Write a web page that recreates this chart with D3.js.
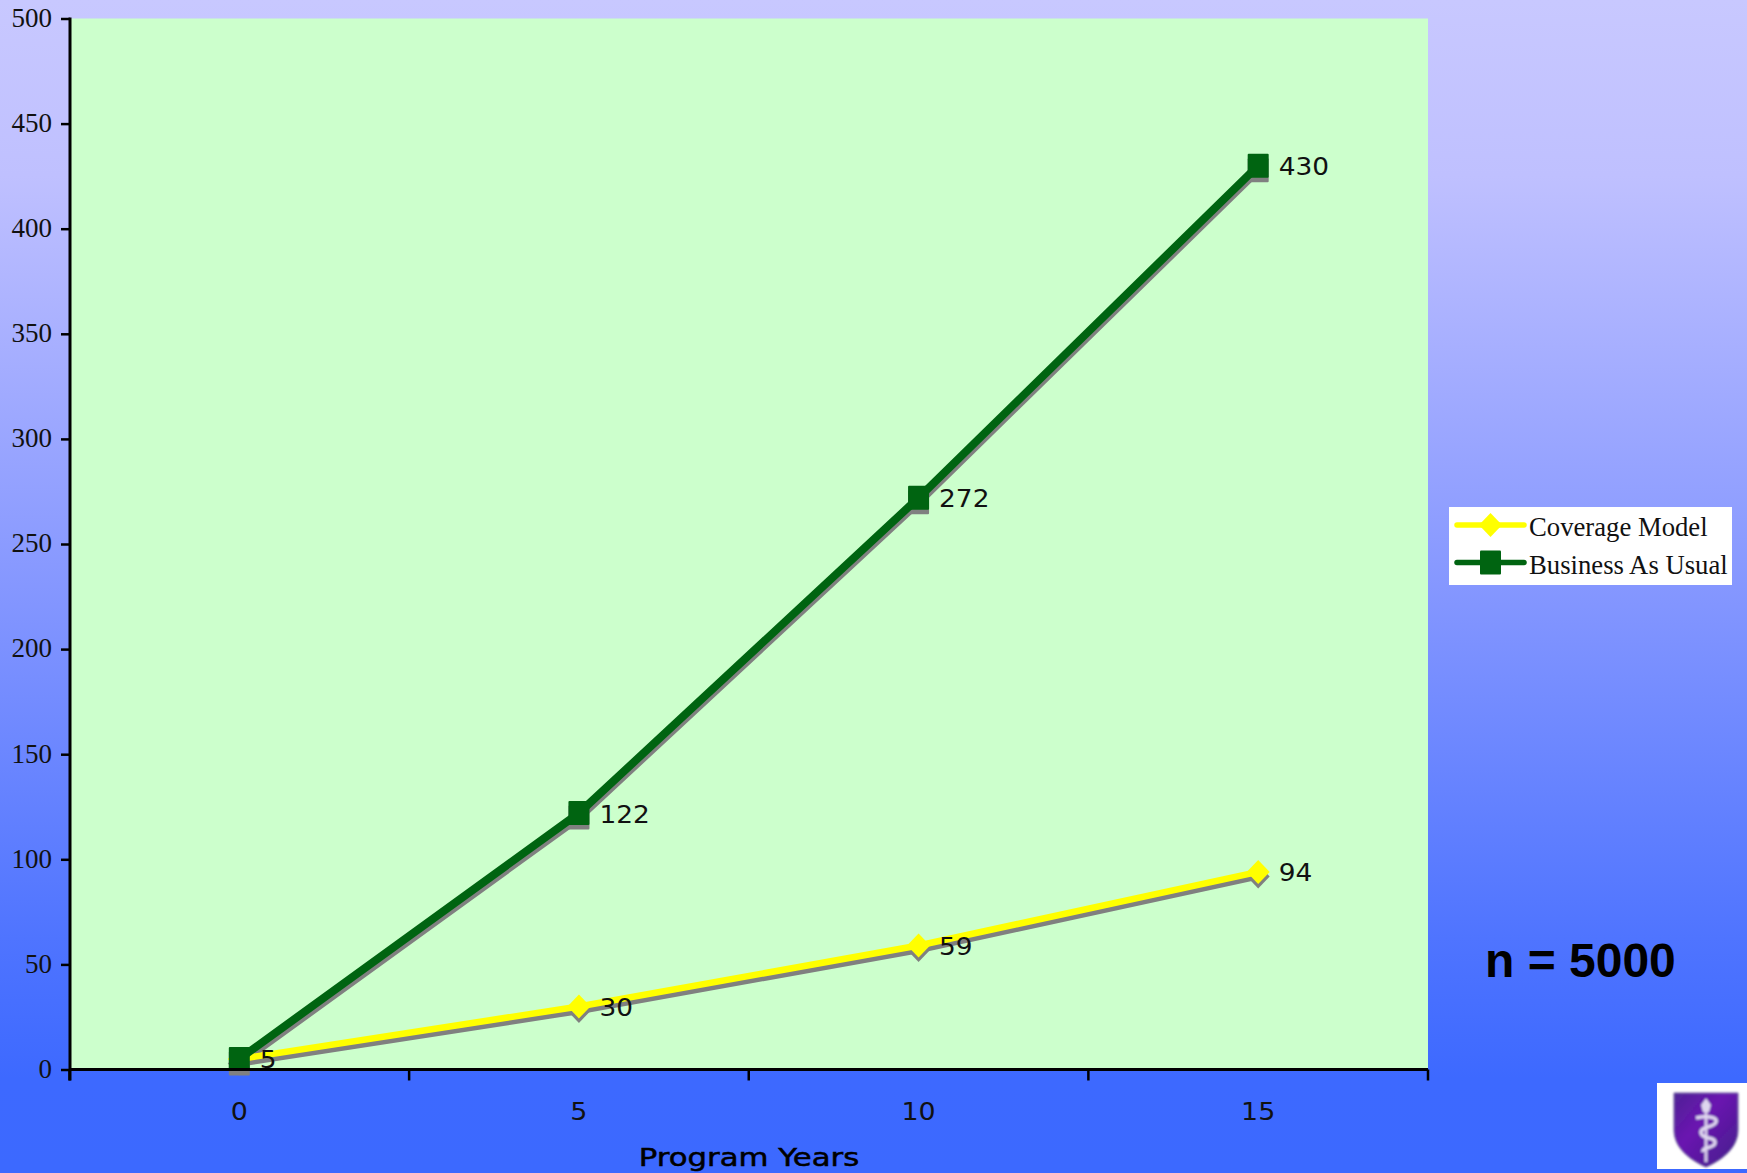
<!DOCTYPE html>
<html>
<head>
<meta charset="utf-8">
<style>
html,body{margin:0;padding:0;background:#3c69ff;overflow:hidden}
svg{display:block}
</style>
<script src="https://cdn.jsdelivr.net/npm/d3@7"></script>
</head>
<body>
<svg id="chart" width="1747" height="1173"></svg>
<script>
const programYears = ["0", "5", "10", "15"];
const coverageModel = [5, 30, 59, 94];
const businessAsUsual = [5, 122, 272, 430];
const yTicks = [0, 50, 100, 150, 200, 250, 300, 350, 400, 450, 500];
const seriesNames = ["Coverage Model", "Business As Usual"];
const seriesColors = ["#ffff00", "#006411"];
const seriesMarkers = ["diamond", "square"];
const seriesWidths = [6.5, 8];

const svg = d3.select("#chart");
const defs = svg.append("defs");

// Page backdrop: lavender at the top fading into saturated blue
const grad = defs.append("linearGradient").attr("id", "backdrop")
  .attr("x1", 0).attr("y1", 0).attr("x2", 0).attr("y2", 1);
[[0, "#c8c8ff"], [0.15, "#bfc0ff"], [0.5, "#8597ff"], [0.8, "#4f74ff"], [0.92, "#3d69ff"], [1, "#3c69ff"]]
  .forEach(([o, c]) => grad.append("stop").attr("offset", o).attr("stop-color", c));
svg.append("rect").attr("width", 1747).attr("height", 1173).attr("fill", "url(#backdrop)");

const x = d3.scaleBand().domain(programYears).range([69.5, 1428]);
const y = d3.scaleLinear().domain([0, 500]).range([1069.5, 18.5]);
const cx = d => x(d) + x.bandwidth() / 2;

// Horizontally stretch a text selection while keeping it live text
function stretch(sel, factor) {
  sel.each(function () {
    const w = this.getComputedTextLength();
    d3.select(this).attr("textLength", w * factor).attr("lengthAdjust", "spacingAndGlyphs");
  });
}

// Plot area
svg.append("rect")
  .attr("x", x.range()[0]).attr("y", y(500))
  .attr("width", x.range()[1] - x.range()[0]).attr("height", y(0) - y(500))
  .attr("fill", "#ccffcc");

const lineGen = d3.line().x((d, i) => cx(programYears[i])).y(d => y(d));

function marker(g, kind, px, py, color) {
  if (kind === "diamond") {
    g.append("path")
      .attr("d", `M${px},${py - 12}L${px + 11.5},${py}L${px},${py + 12}L${px - 11.5},${py}Z`)
      .attr("fill", color);
  } else {
    g.append("rect")
      .attr("x", px - 10.5).attr("y", py - 12)
      .attr("width", 21).attr("height", 24).attr("rx", 1)
      .attr("fill", color);
  }
}

function drawSeries(values, index) {
  const color = seriesColors[index], kind = seriesMarkers[index], sw = seriesWidths[index];
  const shadow = svg.append("g").attr("transform", "translate(0,4.5)");
  shadow.append("path").attr("d", lineGen(values))
    .attr("fill", "none").attr("stroke", "#808080").attr("stroke-width", sw);
  values.forEach((v, i) => marker(shadow, kind, cx(programYears[i]), y(v), "#808080"));
  return () => {
    const g = svg.append("g");
    g.append("path").attr("d", lineGen(values))
      .attr("fill", "none").attr("stroke", color).attr("stroke-width", sw);
    values.forEach((v, i) => marker(g, kind, cx(programYears[i]), y(v), color));
  };
}

// Shadows go down first so neither line's shadow covers the other line
const topYellow = drawSeries(coverageModel, 0);
const topGreen = drawSeries(businessAsUsual, 1);
topYellow();
topGreen();

// Axes
const axisY = svg.append("g").attr("transform", "translate(70,0)")
  .call(d3.axisLeft(y).tickValues(yTicks).tickSize(9).tickPadding(9));
axisY.selectAll("text").attr("font-family", "Liberation Serif").attr("font-size", 27)
  .attr("fill", "#111").attr("dy", "0.29em");
axisY.selectAll("line").attr("stroke", "#000").attr("stroke-width", 2.5);
axisY.select(".domain").attr("stroke", "#000").attr("stroke-width", 3).attr("d", `M0,${y(500) - 1}V${y(0) + 11}`);

const axisX = svg.append("g").attr("transform", `translate(0,${y(0)})`);
axisX.append("line").attr("x1", x.range()[0]).attr("x2", x.range()[1])
  .attr("stroke", "#000").attr("stroke-width", 3);
const xEdges = programYears.map(d => x(d)).concat(x.range()[1]);
axisX.selectAll(".edge").data(xEdges).join("line").attr("class", "edge")
  .attr("x1", d => d).attr("x2", d => d).attr("y1", 0).attr("y2", 11)
  .attr("stroke", "#000").attr("stroke-width", 2.5);
axisX.selectAll(".lab").data(programYears).join("text").attr("class", "lab")
  .attr("x", d => cx(d)).attr("y", 50).attr("text-anchor", "middle")
  .attr("font-family", "DejaVu Sans").attr("font-size", 24).attr("fill", "#111")
  .text(d => d)
  .call(stretch, 1.12);

svg.append("text").attr("x", 749).attr("y", 1166).attr("text-anchor", "middle")
  .attr("font-family", "DejaVu Sans").attr("font-size", 24)
  .attr("stroke", "#000").attr("stroke-width", 0.5)
  .attr("fill", "#000").text("Program Years")
  .call(stretch, 1.28);

// Value labels beside each point; the shared starting point is labelled once
function valueLabels(values, years) {
  svg.append("g").selectAll("text").data(values).join("text")
    .attr("x", (d, i) => cx(years[i]) + 20.5)
    .attr("y", d => y(d) + 9.5)
    .attr("font-family", "DejaVu Sans").attr("font-size", 24).attr("fill", "#111")
    .text(d => d)
    .call(stretch, 1.1);
}
valueLabels(coverageModel, programYears);
valueLabels(businessAsUsual.slice(1), programYears.slice(1));

// Legend
const legend = svg.append("g");
legend.append("rect").attr("x", 1449).attr("y", 507).attr("width", 283).attr("height", 78).attr("fill", "#fff");
seriesNames.forEach((name, i) => {
  const ly = i === 0 ? 525 : 562.5;
  legend.append("line").attr("x1", 1457).attr("x2", 1524).attr("y1", ly).attr("y2", ly)
    .attr("stroke", seriesColors[i]).attr("stroke-width", 5.5).attr("stroke-linecap", "round");
  marker(legend, seriesMarkers[i], 1490.5, ly, seriesColors[i]);
  legend.append("text").attr("x", 1529).attr("y", i === 0 ? 536 : 574)
    .attr("font-family", "Liberation Serif").attr("font-size", 26.7).attr("fill", "#111")
    .text(name);
});

// Sample size note
svg.append("text").attr("x", 1485).attr("y", 977)
  .attr("font-family", "Liberation Sans").attr("font-weight", "bold").attr("font-size", 48)
  .attr("fill", "#000").text("n = 5000");

// Emblem: white tile, purple shield, staff and serpent
const soft = defs.append("filter").attr("id", "soft");
soft.append("feGaussianBlur").attr("stdDeviation", 0.9);
const shieldFill = defs.append("linearGradient").attr("id", "shieldFill")
  .attr("x1", 0).attr("y1", 0).attr("x2", 1).attr("y2", 1);
shieldFill.append("stop").attr("offset", 0).attr("stop-color", "#4f2396");
shieldFill.append("stop").attr("offset", 0.4).attr("stop-color", "#6a14b0");
shieldFill.append("stop").attr("offset", 1).attr("stop-color", "#43208a");
const emblem = svg.append("g");
emblem.append("rect").attr("x", 1657).attr("y", 1083).attr("width", 90).attr("height", 86).attr("fill", "#fff");
const crest = emblem.append("g").attr("filter", "url(#soft)");
crest.append("path")
  .attr("d", "M1674,1093L1738,1093L1738,1130C1738,1148 1722,1160 1706,1167C1690,1160 1674,1148 1674,1130Z")
  .attr("fill", "url(#shieldFill)").attr("stroke", "#6a5a9a").attr("stroke-width", 1);
crest.append("path")
  .attr("d", "M1706,1102L1706,1162")
  .attr("stroke", "#d8cdea").attr("stroke-width", 3).attr("fill", "none");
crest.append("path")
  .attr("d", "M1701,1105L1706,1098L1711,1105L1709,1112L1703,1112Z")
  .attr("fill", "#ded6ee");
crest.append("path")
  .attr("d", "M1696,1118C1704,1116 1718,1116 1716,1122C1714,1128 1700,1126 1701,1133C1702,1140 1716,1136 1715,1143C1714,1149 1702,1146 1703,1152")
  .attr("stroke", "#ded6ee").attr("stroke-width", 3.5).attr("fill", "none");
</script>
</body>
</html>
